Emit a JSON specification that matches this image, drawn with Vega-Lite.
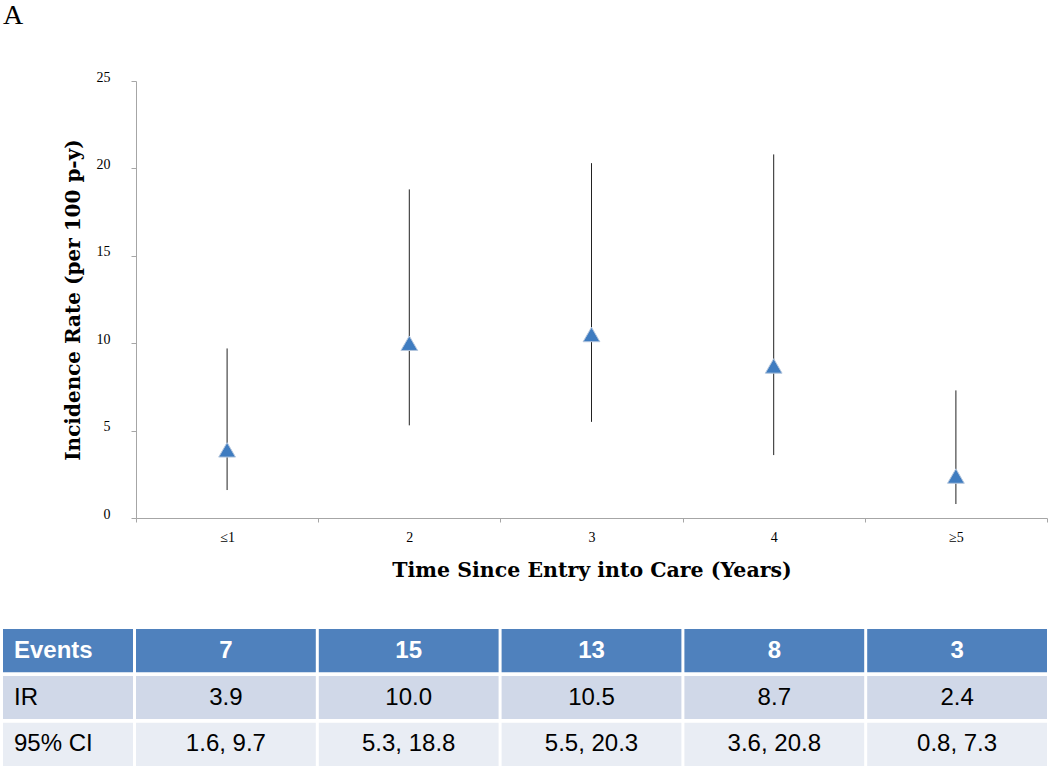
{
  "$schema": "https://vega.github.io/schema/vega-lite/v6.json",
  "background": "white",
  "padding": {"left": 3, "top": 2, "right": 3, "bottom": 3},
  "datasets": {
    "rates": [
      {"period": "≤1", "ir": 3.9, "lo": 1.6, "hi": 9.7},
      {"period": "2", "ir": 10.0, "lo": 5.3, "hi": 18.8},
      {"period": "3", "ir": 10.5, "lo": 5.5, "hi": 20.3},
      {"period": "4", "ir": 8.7, "lo": 3.6, "hi": 20.8},
      {"period": "≥5", "ir": 2.4, "lo": 0.8, "hi": 7.3}
    ],
    "rowlabels": [
      {"row": "Events"},
      {"row": "IR"},
      {"row": "95% CI"}
    ],
    "cells": [
      {"row": "Events", "period": "≤1", "value": "7"},
      {"row": "Events", "period": "2", "value": "15"},
      {"row": "Events", "period": "3", "value": "13"},
      {"row": "Events", "period": "4", "value": "8"},
      {"row": "Events", "period": "≥5", "value": "3"},
      {"row": "IR", "period": "≤1", "value": "3.9"},
      {"row": "IR", "period": "2", "value": "10.0"},
      {"row": "IR", "period": "3", "value": "10.5"},
      {"row": "IR", "period": "4", "value": "8.7"},
      {"row": "IR", "period": "≥5", "value": "2.4"},
      {"row": "95% CI", "period": "≤1", "value": "1.6, 9.7"},
      {"row": "95% CI", "period": "2", "value": "5.3, 18.8"},
      {"row": "95% CI", "period": "3", "value": "5.5, 20.3"},
      {"row": "95% CI", "period": "4", "value": "3.6, 20.8"},
      {"row": "95% CI", "period": "≥5", "value": "0.8, 7.3"}
    ]
  },
  "columns": 2,
  "spacing": {"row": 111, "column": 3},
  "bounds": "flush",
  "resolve": {"scale": {"x": "independent", "y": "independent", "fill": "independent"}},
  "concat": [
    {
      "width": 130,
      "height": 437,
      "data": {"values": []},
      "mark": "point",
      "encoding": {},
      "title": {"text": "A", "anchor": "start", "frame": "group", "baseline": "alphabetic", "offset": 29, "font": "Liberation Serif", "fontSize": 28, "fontWeight": "normal", "color": "black"}
    },
    {
      "width": 911,
      "height": 437,
      "data": {"name": "rates"},
      "encoding": {
        "x": {
          "field": "period", "type": "ordinal", "sort": ["≤1", "2", "3", "4", "≥5"],
          "scale": {"type": "band", "paddingInner": 0, "paddingOuter": 0},
          "axis": {
            "title": "Time Since Entry into Care (Years)",
            "titleFont": "DejaVu Serif", "titleFontSize": 20.5, "titleFontWeight": "bold", "titleColor": "black", "titlePadding": 16,
            "labelFont": "Liberation Serif", "labelFontSize": 14, "labelColor": "black", "labelPadding": 8, "labelAngle": 0,
            "domainColor": "#A6A6A6", "tickColor": "#A6A6A6", "tickSize": 4, "tickBand": "extent", "grid": false
          }
        }
      },
      "layer": [
        {
          "mark": {"type": "rule", "color": "#222222", "strokeWidth": 1},
          "encoding": {
            "y": {
              "field": "lo", "type": "quantitative",
              "scale": {"domain": [0, 25], "nice": false, "zero": true},
              "axis": {
                "title": "Incidence Rate (per 100 p-y)",
                "titleFont": "DejaVu Serif", "titleFontSize": 20, "titleFontWeight": "bold", "titleColor": "black", "titlePadding": 13,
                "values": [0, 5, 10, 15, 20, 25],
                "labelFont": "Liberation Serif", "labelFontSize": 14, "labelColor": "black", "labelBaseline": "alphabetic", "labelPadding": 21,
                "domainColor": "#A6A6A6", "tickColor": "#A6A6A6", "tickSize": 5, "grid": false
              }
            },
            "y2": {"field": "hi"}
          }
        },
        {
          "mark": {"type": "point", "shape": "triangle-up", "filled": true, "size": 280, "color": "#3F7CC0", "opacity": 1, "stroke": "#B4C6DD", "strokeWidth": 1},
          "encoding": {
            "y": {"field": "ir", "type": "quantitative"}
          }
        }
      ]
    },
    {
      "width": 130,
      "height": 137,
      "data": {"name": "rowlabels"},
      "encoding": {
        "y": {"field": "row", "type": "nominal", "sort": ["Events", "IR", "95% CI"], "scale": {"paddingInner": 0.08, "paddingOuter": 0}, "axis": null}
      },
      "layer": [
        {
          "mark": {"type": "rect"},
          "encoding": {
            "fill": {"field": "row", "type": "nominal", "scale": {"domain": ["Events", "IR", "95% CI"], "range": ["#4F81BD", "#D0D8E8", "#E9EDF4"]}, "legend": null}
          }
        },
        {
          "transform": [{"filter": "datum.row === 'Events'"}],
          "mark": {"type": "text", "align": "left", "dx": -54, "font": "Liberation Sans", "fontSize": 24, "fontWeight": "bold", "color": "white"},
          "encoding": {"text": {"field": "row"}}
        },
        {
          "transform": [{"filter": "datum.row !== 'Events'"}],
          "mark": {"type": "text", "align": "left", "dx": -54, "font": "Liberation Sans", "fontSize": 24, "color": "black"},
          "encoding": {"text": {"field": "row"}}
        }
      ]
    },
    {
      "width": 911,
      "height": 137,
      "data": {"name": "cells"},
      "encoding": {
        "x": {"field": "period", "type": "nominal", "sort": ["≤1", "2", "3", "4", "≥5"], "scale": {"type": "band", "paddingInner": 0.0164, "paddingOuter": 0}, "axis": null},
        "y": {"field": "row", "type": "nominal", "sort": ["Events", "IR", "95% CI"], "scale": {"paddingInner": 0.08, "paddingOuter": 0}, "axis": null}
      },
      "layer": [
        {
          "mark": {"type": "rect"},
          "encoding": {
            "fill": {"field": "row", "type": "nominal", "scale": {"domain": ["Events", "IR", "95% CI"], "range": ["#4F81BD", "#D0D8E8", "#E9EDF4"]}, "legend": null}
          }
        },
        {
          "transform": [{"filter": "datum.row === 'Events'"}],
          "mark": {"type": "text", "font": "Liberation Sans", "fontSize": 24, "fontWeight": "bold", "color": "white"},
          "encoding": {"text": {"field": "value"}}
        },
        {
          "transform": [{"filter": "datum.row !== 'Events'"}],
          "mark": {"type": "text", "font": "Liberation Sans", "fontSize": 24, "color": "black"},
          "encoding": {"text": {"field": "value"}}
        }
      ]
    }
  ],
  "config": {"view": {"stroke": null}}
}
